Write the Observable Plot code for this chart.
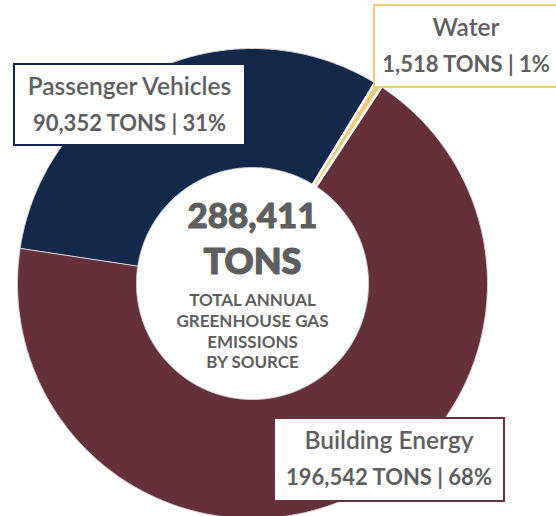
<!DOCTYPE html>
<html>
<head>
<meta charset="utf-8">
<script src="https://cdn.jsdelivr.net/npm/d3@7"></script>
<script src="https://cdn.jsdelivr.net/npm/@observablehq/plot@0.6"></script>
<style>
  html, body { margin: 0; padding: 0; background: #fff; }
  #wrap { position: relative; width: 556px; height: 516px; overflow: hidden; font-family: Lato, "Open Sans", sans-serif; }
  #wrap svg { position: absolute; left: 0; top: 0; }
  .box { position: absolute; box-sizing: border-box; background: #fff; border: 2px solid; color: #5e5e5e; }
  .t1, .t2 { position: absolute; left: 0; right: 0; text-align: center; line-height: 1; white-space: nowrap; }
  .t1 { font-size: 24.5px; font-weight: 600; }
  .t2 { font-size: 22px; font-weight: 700; }
</style>
</head>
<body>
<div id="wrap"></div>
<script>
// ---- data ----
const categories = ["Passenger Vehicles", "Water", "Building Energy"];
const tons = [90352, 1518, 196542];
const tonLabels = ["90,352 TONS", "1,518 TONS", "196,542 TONS"];
const percents = ["31%", "1%", "68%"];
const colors = ["#13294b", "#f2cb76", "#652f3c"];
const totalLabel = "288,411";
const unitLabel = "TONS";
const subtitleLines = ["TOTAL ANNUAL", "GREENHOUSE GAS", "EMISSIONS", "BY SOURCE"];

// ---- layout of the donut (in unit-radius coordinates) ----
const innerRatio = 116 / 235;
const startAngle = -81.4 * Math.PI / 180;

const pie = d3.pie().sort(null).value(d => d.tons)
  .startAngle(startAngle).endAngle(startAngle + 2 * Math.PI);
const rows = categories.map((name, i) => ({name, tons: tons[i]}));
const arcs = pie(rows);

function arcPoints(a) {
  const pts = [];
  const n = Math.max(4, Math.ceil((a.endAngle - a.startAngle) / 0.005));
  for (let k = 0; k <= n; k++) {
    const t = a.startAngle + (a.endAngle - a.startAngle) * k / n;
    pts.push({name: a.data.name, x: Math.sin(t), y: Math.cos(t)});
  }
  for (let k = n; k >= 0; k--) {
    const t = a.startAngle + (a.endAngle - a.startAngle) * k / n;
    pts.push({name: a.data.name, x: innerRatio * Math.sin(t), y: innerRatio * Math.cos(t)});
  }
  return pts;
}
const slicePts = arcs.flatMap(arcPoints);
const waterPts = slicePts.filter(d => d.name === "Water");

const textColor = "#5e5e5e";
const plot = Plot.plot({
  width: 556,
  height: 516,
  margin: 0,
  x: {domain: [-1, 1], range: [17, 487], axis: null},
  y: {domain: [-1, 1], range: [518, 48], axis: null},
  color: {domain: categories, range: colors},
  style: {background: "transparent", fontFamily: "Lato, sans-serif"},
  marks: [
    Plot.line(slicePts, {x: "x", y: "y", z: "name", fill: "name", stroke: "#d9d9d9", strokeWidth: 1, curve: "linear-closed"}),
    Plot.line(waterPts, {x: "x", y: "y", z: "name", fill: "name", stroke: "#ffffff", strokeWidth: 2.5, curve: "linear-closed"}),
    Plot.text([totalLabel], {x: 0, y: 0, text: d => d, dy: -56, lineAnchor: "bottom", fontSize: 35, fontWeight: 900, fill: textColor, stroke: textColor, strokeWidth: 1}),
    Plot.text([unitLabel], {x: 0, y: 0, text: d => d, dy: -10, lineAnchor: "bottom", fontSize: 36, fontWeight: 900, fill: textColor, stroke: textColor, strokeWidth: 1.2}),
    Plot.text([subtitleLines.join("\n")], {x: 0, y: 0, text: d => d, dy: 8, lineAnchor: "top", fontSize: 17, fontWeight: 700, lineHeight: 1.22, fill: textColor, letterSpacing: -0.2})
  ]
});
document.getElementById("wrap").appendChild(plot);

// ---- label boxes ----
const boxes = [
  {i: 0, left: 13, top: 63, width: 233, height: 83},
  {i: 1, left: 373, top: 4, width: 186, height: 84},
  {i: 2, left: 273, top: 417, width: 232, height: 85}
];
for (const b of boxes) {
  const div = document.createElement("div");
  div.className = "box";
  Object.assign(div.style, {left: b.left + "px", top: b.top + "px", width: b.width + "px", height: b.height + "px", borderColor: colors[b.i]});
  const t1 = document.createElement("div");
  t1.className = "t1";
  t1.textContent = categories[b.i];
  t1.style.top = "9px";
  const t2 = document.createElement("div");
  t2.className = "t2";
  t2.textContent = tonLabels[b.i] + " | " + percents[b.i];
  t2.style.top = "47px";
  div.appendChild(t1);
  div.appendChild(t2);
  document.getElementById("wrap").appendChild(div);
}
</script>
</body>
</html>
